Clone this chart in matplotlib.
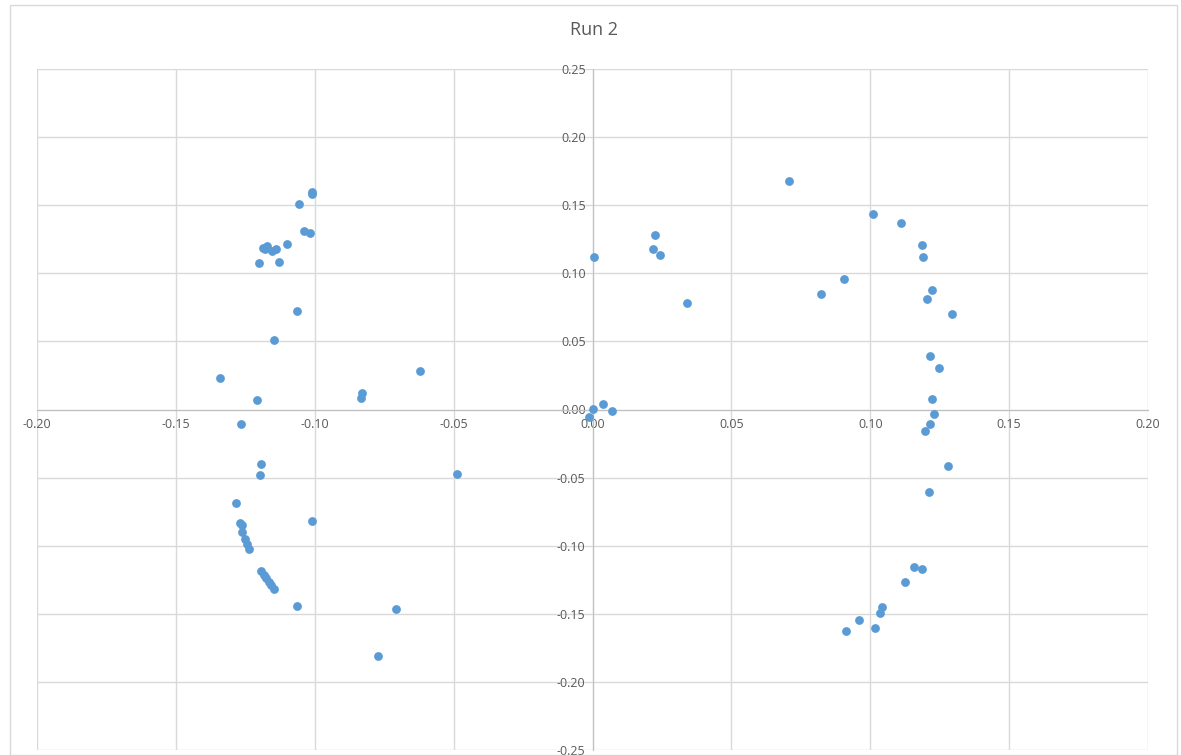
import matplotlib
matplotlib.use("Agg")
import matplotlib.pyplot as plt
from matplotlib.patches import Rectangle

title = "Run 2"
x_ticks = [-0.20, -0.15, -0.10, -0.05, 0.00, 0.05, 0.10, 0.15, 0.20]
y_ticks = [-0.25, -0.20, -0.15, -0.10, -0.05, 0.00, 0.05, 0.10, 0.15, 0.20, 0.25]

x_left = [-0.1010, -0.1010, -0.1057, -0.1039, -0.1017, -0.1100, -0.1186, -0.1172, -0.1154,
          -0.1139, -0.1179, -0.1201, -0.1129, -0.1064, -0.1147, -0.1341, -0.1208, -0.0830,
          -0.0834, -0.0621, -0.1266, -0.1193, -0.1197, -0.1284, -0.1269, -0.1262, -0.1262,
          -0.1251, -0.1244, -0.1237, -0.1010, -0.1193, -0.1183, -0.1175, -0.1164, -0.1157,
          -0.1147, -0.1064, -0.0707, -0.0772, -0.0488]
y_left = [0.1597, 0.1585, 0.1509, 0.1311, 0.1296, 0.1215, 0.1186, 0.1200, 0.1164,
          0.1178, 0.1178, 0.1076, 0.1083, 0.0723, 0.0510, 0.0231, 0.0070, 0.0121,
          0.0084, 0.0283, -0.0106, -0.0400, -0.0481, -0.0687, -0.0834, -0.0848, -0.0899,
          -0.0951, -0.0988, -0.1024, -0.0819, -0.1186, -0.1215, -0.1237, -0.1266, -0.1288,
          -0.1318, -0.1443, -0.1465, -0.1810, -0.0474]

x_right = [0.0005, 0.0225, 0.0218, 0.0243, 0.0340, 0.0000, 0.0038, 0.0070, -0.0013,
           0.0707, 0.1010, 0.1111, 0.1186, 0.1190, 0.0905, 0.0823, 0.1222, 0.1204,
           0.1294, 0.1215, 0.1248, 0.1222, 0.1229, 0.1215, 0.1197, 0.1280, 0.1211,
           0.1158, 0.1186, 0.1125, 0.1042, 0.1035, 0.0959, 0.1017, 0.0913]
y_right = [0.1120, 0.1281, 0.1178, 0.1134, 0.0782, 0.0004, 0.0040, -0.0011, -0.0055,
           0.1681, 0.1439, 0.1366, 0.1208, 0.1120, 0.0958, 0.0848, 0.0877, 0.0811,
           0.0701, 0.0392, 0.0305, 0.0077, -0.0033, -0.0107, -0.0158, -0.0415, -0.0606,
           -0.1156, -0.1171, -0.1267, -0.1450, -0.1494, -0.1546, -0.1604, -0.1627]

plt.rcParams['font.family'] = ['Open Sans', 'DejaVu Sans']

fig = plt.figure(figsize=(11.81, 7.55), dpi=100)
fig.patches.append(Rectangle((10/1181, 0), 1167/1181, 750/755, transform=fig.transFigure,
                             fill=False, edgecolor='#d9d9d9', linewidth=1))
ax = fig.add_axes([37/1181, 5/755, 1111/1181, 681/755])

ax.scatter(x_left + x_right, y_left + y_right, s=40, color='#5b9bd5', zorder=3, linewidths=0)

ax.set_xlim(-0.20, 0.20)
ax.set_ylim(-0.25, 0.25)
ax.set_xticks(x_ticks)
ax.set_yticks(y_ticks)
ax.set_xticklabels([f"{v:.2f}" for v in x_ticks])
ax.set_yticklabels([f"{v:.2f}" for v in y_ticks])
ax.grid(True, color='#d9d9d9', linewidth=1)
ax.set_axisbelow(True)

for s in ['top', 'right']:
    ax.spines[s].set_visible(False)
ax.spines['left'].set_position('zero')
ax.spines['bottom'].set_position('zero')
ax.spines['left'].set_color('#bfbfbf')
ax.spines['bottom'].set_color('#bfbfbf')
ax.tick_params(length=0, labelsize=9, colors='#595959', pad=6)
ax.tick_params(axis='y', pad=5)

fig.text(594/1181, 1 - 30/755, title, ha='center', va='center', fontsize=13, color='#595959')

fig.savefig("out.png", dpi=100)
